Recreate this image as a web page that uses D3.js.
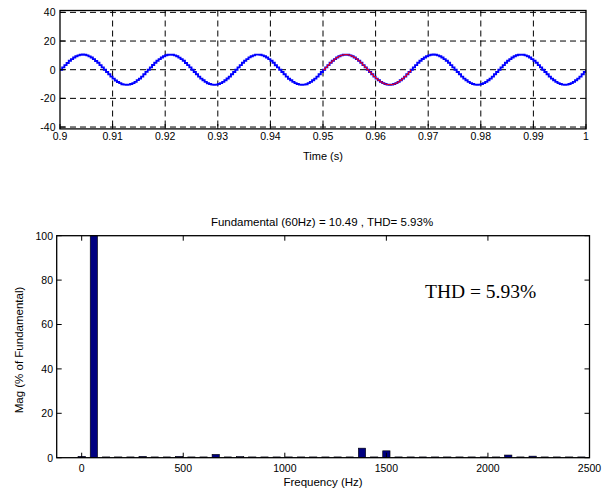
<!DOCTYPE html>
<html><head><meta charset="utf-8">
<script src="https://cdn.jsdelivr.net/npm/d3@7"></script>
<style>
body{margin:0;background:#fff;}
svg{display:block;}
text{font-family:"Liberation Sans",Arial,Helvetica,sans-serif;fill:#000;}
text.serif{font-family:"Liberation Serif","Times New Roman",serif;}
</style></head><body>
<script>
// ---------- Data ----------
// Top plot: waveform samples from t=0.9 s to t=1.0 s (step 1/2400 s)
const timeStart = 0.9, timeEnd = 1.0;
const waveValues = [
 0,1.6,3.2,4.7,6.2,7.4,8.5,9.4,10.0,10.4,10.6,10.4,10.0,9.3,8.5,7.4,6.1,4.8,3.2,1.6,
 0,-1.6,-3.2,-4.8,-6.2,-7.5,-8.6,-9.4,-10.1,-10.4,-10.5,-10.4,-10.0,-9.4,-8.5,-7.3,-6.2,-4.8,-3.2,-1.5,
 0,1.6,3.3,4.8,6.2,7.4,8.5,9.4,10.1,10.4,10.5,10.4,10.0,9.4,8.4,7.4,6.2,4.7,3.2,1.6,
 0,-1.6,-3.2,-4.8,-6.2,-7.4,-8.5,-9.5,-10.0,-10.4,-10.6,-10.4,-10.0,-9.4,-8.5,-7.4,-6.1,-4.8,-3.2,-1.6,
 0,1.6,3.2,4.8,6.2,7.4,8.6,9.4,10.0,10.5,10.5,10.4,10.0,9.4,8.5,7.4,6.2,4.8,3.1,1.6,
 0,-1.6,-3.2,-4.8,-6.3,-7.4,-8.5,-9.4,-10.0,-10.4,-10.5,-10.4,-10.1,-9.4,-8.5,-7.4,-6.2,-4.8,-3.2,-1.6,
 0,1.6,3.2,4.8,6.2,7.4,8.5,9.4,10.0,10.4,10.5,10.4,10.0,9.4,8.5,7.4,6.2,4.8,3.2,1.6,
 0,-1.6,-3.2,-4.8,-6.2,-7.4,-8.5,-9.4,-10.0,-10.4,-10.5,-10.4,-10.0,-9.4,-8.5,-7.4,-6.2,-4.8,-3.2,-1.6,
 0,1.6,3.2,4.8,6.2,7.5,8.5,9.4,10.0,10.4,10.6,10.4,10.0,9.4,8.5,7.4,6.2,4.8,3.2,1.6,
 0,-1.6,-3.2,-4.8,-6.2,-7.4,-8.5,-9.4,-10.0,-10.4,-10.5,-10.4,-10.0,-9.4,-8.5,-7.4,-6.2,-4.8,-3.2,-1.6,
 0,1.6,3.2,4.8,6.2,7.4,8.5,9.4,10.1,10.4,10.5,10.4,10.0,9.4,8.5,7.4,6.2,4.8,3.2,1.6,
 0,-1.6,-3.2,-4.8,-6.2,-7.4,-8.5,-9.4,-10.0,-10.4,-10.5,-10.4,-10.0,-9.4,-8.5,-7.4,-6.2,-4.8,-3.2,-1.6,
 0
];
const fftWindowStart = 0.95, fftWindowEnd = 0.95 + 1/60;
const timeTicks = [0.9,0.91,0.92,0.93,0.94,0.95,0.96,0.97,0.98,0.99,1];
const timeTickLabels = ["0.9","0.91","0.92","0.93","0.94","0.95","0.96","0.97","0.98","0.99","1"];
const ampTicks = [40,20,0,-20,-40];

// Bottom plot: harmonic spectrum (% of fundamental)
const harmonicFreqs = [0,60,120,180,240,300,360,420,480,540,600,660,720,780,840,900,960,1020,1080,1140,1200,1260,1320,1380,1440,1500,1560,1620,1680,1740,1800,1860,1920,1980,2040,2100,2160,2220,2280,2340,2400,2460];
const harmonicMags  = [0.6,100,0.35,0.35,0.35,0.6,0.35,0.35,0.6,0.35,0.35,1.5,0.35,0.5,0.35,0.35,0.35,0.35,0.35,0.35,0.35,0.35,0.35,4.3,0.35,3.1,0.35,0.35,0.35,0.35,0.35,0.35,0.35,0.35,0.35,1.2,0.35,0.7,0.35,0.35,0.35,0.35];
const freqTicks = [0,500,1000,1500,2000,2500];
const magTicks = [0,20,40,60,80,100];
const spectrumTitle = "Fundamental (60Hz) = 10.49 , THD= 5.93%";
const thdNote = "THD = 5.93%";

// ---------- Drawing ----------
const W = 606, H = 493;
const svg = d3.select("body").append("svg").attr("width", W).attr("height", H);

// ===== Top plot =====
const tx = d3.scaleLinear().domain([timeStart, timeEnd]).range([60, 586]);
const ty = d3.scaleLinear().domain([-41.3, 41.3]).range([128.9, 10.5]);
const gTop = svg.append("g");
gTop.append("defs").append("clipPath").attr("id","clipTop")
  .append("rect").attr("x",60).attr("y",10.5).attr("width",526).attr("height",118.4);

// grid
gTop.selectAll("line.vg").data(timeTicks.slice(1,-1)).join("line")
  .attr("x1", d=>tx(d)).attr("x2", d=>tx(d)).attr("y1", ty.range()[1]).attr("y2", ty.range()[0])
  .attr("stroke","#000").attr("stroke-width",1).attr("stroke-dasharray","6,4");
gTop.selectAll("line.hg").data(ampTicks).join("line")
  .attr("x1", tx.range()[0]).attr("x2", tx.range()[1]).attr("y1", d=>ty(d)).attr("y2", d=>ty(d))
  .attr("stroke","#000").attr("stroke-width",1).attr("stroke-dasharray","6,4");

const pts = waveValues.map((v,i)=>({t: timeStart + i/2400, v}));
const line = d3.line().x(d=>tx(d.t)).y(d=>ty(d.v)).curve(d3.curveStepAfter);
gTop.append("path").datum(pts).attr("d", line).attr("fill","none")
  .attr("stroke","#0000ff").attr("stroke-width",1.9).attr("clip-path","url(#clipTop)");
const redPts = pts.filter(d => d.t >= fftWindowStart - 1e-9 && d.t <= fftWindowEnd + 1e-9);
gTop.append("path").datum(redPts).attr("d", line).attr("fill","none")
  .attr("stroke","#ff0000").attr("stroke-width",1.0);

// box
gTop.append("rect").attr("x",60).attr("y",10.5).attr("width",526).attr("height",118.4)
  .attr("fill","none").attr("stroke","#000").attr("stroke-width",1.3);
// ticks
gTop.selectAll("line.xt").data(timeTicks).join("line")
  .attr("x1", d=>tx(d)).attr("x2", d=>tx(d)).attr("y1",128.9).attr("y2",124)
  .attr("stroke","#000");
gTop.selectAll("line.yt").data(ampTicks).join("line")
  .attr("x1",60).attr("x2",65).attr("y1", d=>ty(d)).attr("y2", d=>ty(d)).attr("stroke","#000");
// labels
gTop.selectAll("text.xl").data(timeTicks).join("text")
  .attr("x", d=>tx(d)).attr("y",140).attr("text-anchor","middle").attr("font-size","10.5px")
  .text((d,i)=>timeTickLabels[i]);
gTop.selectAll("text.yl").data(ampTicks).join("text")
  .attr("x",55.5).attr("y", d=>ty(d)+3.8).attr("text-anchor","end").attr("font-size","10.5px")
  .text(d=>d);
gTop.append("text").attr("x",323).attr("y",159.5).attr("text-anchor","middle").attr("font-size","11px").text("Time (s)");

// ===== Bottom plot =====
const bx = d3.scaleLinear().domain([-123, 2500]).range([56.7, 589.5]);
const by = d3.scaleLinear().domain([0, 100]).range([457.7, 235.7]);
const gBot = svg.append("g");
const halfW = 18;
gBot.selectAll("rect.bar").data(harmonicFreqs).join("rect")
  .attr("x", d=>bx(d-halfW)).attr("width", d=>bx(d+halfW)-bx(d-halfW))
  .attr("y", (d,i)=>by(harmonicMags[i])).attr("height",(d,i)=>by(0)-by(harmonicMags[i]))
  .attr("fill","#000080").attr("stroke","#000").attr("stroke-width",0.6);

gBot.append("rect").attr("x",56.7).attr("y",235.7).attr("width",589.5-56.7).attr("height",457.7-235.7)
  .attr("fill","none").attr("stroke","#000").attr("stroke-width",1.3);
// ticks
gBot.selectAll("line.bxt").data(freqTicks).join("line")
  .attr("x1", d=>bx(d)).attr("x2", d=>bx(d)).attr("y1",457.7).attr("y2",452.7).attr("stroke","#000");
gBot.selectAll("line.bxt2").data(freqTicks).join("line")
  .attr("x1", d=>bx(d)).attr("x2", d=>bx(d)).attr("y1",235.7).attr("y2",240.7).attr("stroke","#000");
gBot.selectAll("line.byt").data(magTicks).join("line")
  .attr("x1",56.7).attr("x2",61.7).attr("y1", d=>by(d)).attr("y2", d=>by(d)).attr("stroke","#000");
gBot.selectAll("line.byt2").data(magTicks).join("line")
  .attr("x1",589.5).attr("x2",584.5).attr("y1", d=>by(d)).attr("y2", d=>by(d)).attr("stroke","#000");
// labels
gBot.selectAll("text.bxl").data(freqTicks).join("text")
  .attr("x", d=>bx(d)).attr("y",472.3).attr("text-anchor","middle").attr("font-size","10.5px").text(d=>d);
gBot.selectAll("text.byl").data(magTicks).join("text")
  .attr("x",53).attr("y", d=>by(d)+3.8).attr("text-anchor","end").attr("font-size","10.5px").text(d=>d);
gBot.append("text").attr("x",323).attr("y",486.3).attr("text-anchor","middle").attr("font-size","11.5px").text("Frequency (Hz)");
gBot.append("text").attr("transform","translate(23,350) rotate(-90)").attr("text-anchor","middle")
  .attr("font-size","11.5px").text("Mag (% of Fundamental)");
gBot.append("text").attr("x",322).attr("y",225.7).attr("text-anchor","middle").attr("font-size","11.5px").text(spectrumTitle);
gBot.append("text").attr("class","serif").attr("x",425).attr("y",298.3)
  .attr("font-size","19.5px").text(thdNote);
</script>
</body></html>
